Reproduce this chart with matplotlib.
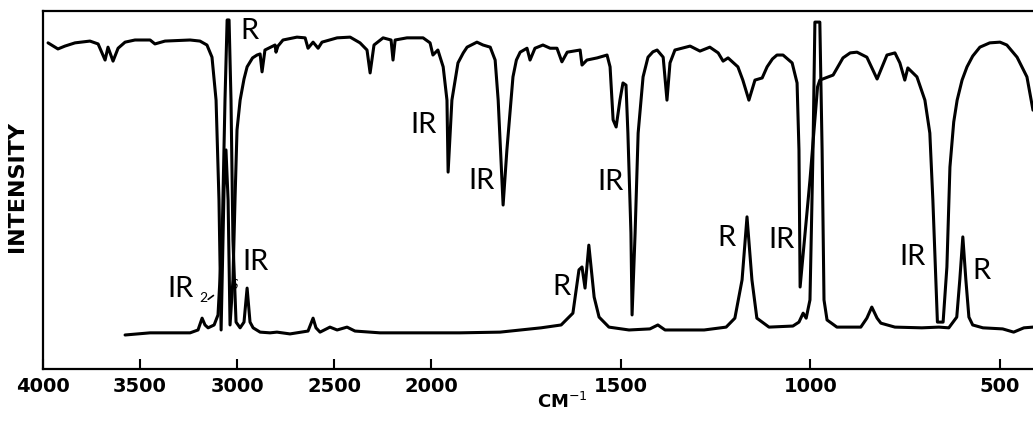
import numpy as np
import matplotlib
matplotlib.use("Agg")
import matplotlib.pyplot as plt

# ======== 数据 ========
# IR trace: wavenumber (cm-1) / relative intensity (0 = bottom, 100 = top)
ir_wn = [3974, 3923, 3887, 3835, 3758, 3716, 3680, 3665, 3639, 3613, 3577, 3526,
         3448, 3423, 3371, 3242, 3191, 3155, 3129, 3108, 3093, 3082, 3067, 3057,
         3046, 3036, 3021, 3010, 3000, 2984, 2964, 2948, 2920, 2897, 2881, 2871, 2856, 2804,
         2799, 2789, 2763, 2691, 2649, 2634, 2608, 2582, 2562, 2484, 2417, 2366,
         2330, 2314, 2294, 2247, 2206, 2196, 2185, 2124, 2041, 2005, 1995, 1982,
         1968, 1958, 1955, 1945, 1929, 1915, 1905, 1879, 1863, 1844, 1831, 1823, 1810,
         1800, 1784, 1775, 1765, 1747, 1739, 1726, 1705, 1686, 1668, 1655, 1641, 1607,
         1602, 1589, 1562, 1536, 1528, 1520, 1512, 1502, 1494, 1486, 1481, 1473,
         1470, 1462, 1454, 1441, 1428, 1415, 1404, 1388, 1378, 1370, 1357, 1317, 1291,
         1265, 1243, 1230, 1217, 1191, 1178, 1162, 1146, 1127, 1114, 1100, 1088, 1072,
         1048, 1035, 1030, 1027, 1001, 981, 975, 940, 925, 914, 895, 877, 851, 824, 798,
         777, 764, 751, 743, 719, 698, 685, 677, 667, 665, 650, 640, 632, 622, 613,
         600, 587, 572, 553, 527, 500, 482, 455, 429, 413]
ir_val = [91.1, 89.4, 90.2, 91.1, 91.6, 90.8, 86.3, 89.9, 86.0, 89.6, 91.3, 91.9,
          91.9, 90.8, 91.6, 91.9, 91.6, 90.5, 87.1, 75.1, 47.2, 10.9, 50.0, 61.2,
          47.2, 12.3, 24.9, 48.0, 66.8, 75.1, 81.0, 84.4, 86.9, 87.7, 88.0, 83.0, 89.1, 90.5,
          88.5, 90.2, 91.9, 92.7, 92.5, 89.6, 91.3, 89.6, 91.3, 92.5, 92.7, 91.1,
          89.1, 82.7, 90.5, 92.5, 91.9, 86.3, 91.9, 92.5, 92.5, 91.1, 87.7, 89.1,
          84.4, 75.1, 55.0, 75.1, 85.5, 88.3, 89.9, 91.3, 90.5, 89.9, 86.3, 75.1, 45.8,
          61.2, 81.6, 86.3, 88.5, 89.6, 86.3, 89.6, 90.5, 89.6, 89.6, 85.8, 88.5, 89.1,
          84.9, 86.3, 86.9, 87.7, 84.4, 69.6, 67.6, 75.1, 79.9, 79.3, 65.9, 38.0,
          15.1, 38.0, 65.9, 81.6, 87.1, 88.6, 89.1, 87.1, 75.1, 85.5, 89.1, 90.2, 88.8,
          89.9, 88.3, 86.0, 86.9, 84.4, 80.7, 75.1, 80.7, 81.3, 84.4, 86.6, 87.7, 87.7,
          85.5, 79.9, 61.2, 22.9, 52.8, 78.8, 80.7, 82.1, 84.9, 86.9, 88.3, 88.5, 87.1, 81.0, 87.7,
          88.3, 85.5, 80.7, 84.1, 81.6, 75.1, 65.9, 47.2, 19.3, 13.1, 13.1, 28.5, 56.4, 69.0, 75.1,
          80.7, 84.4, 87.4, 89.9, 91.1, 91.3, 90.5, 87.1, 81.6, 72.3]

# Raman trace
raman_wn = [3577, 3448, 3242, 3201, 3180, 3165, 3149, 3118, 3098, 3077, 3062, 3051,
            3041, 3031, 3021, 3005, 2984, 2964, 2948, 2933, 2917, 2881, 2830, 2794,
            2727, 2634, 2608, 2593, 2572, 2521, 2484, 2433, 2392, 2263, 2057, 1924,
            1818, 1710, 1657, 1626, 1610, 1602, 1594, 1584, 1570, 1557, 1531, 1478,
            1423, 1402, 1383, 1280, 1222, 1199, 1180, 1167, 1154, 1141, 1109, 1046,
            1030, 1019, 1011, 1001, 993, 988, 975, 969, 964, 956, 930, 867, 851, 838,
            824, 814, 777, 706, 661, 635, 614, 606, 598, 590, 582, 572, 545, 493,
            464, 437, 413]
raman_val = [9.5, 10.1, 10.1, 10.9, 14.2, 12.3, 11.5, 12.3, 15.1, 36.0, 75.1, 97.5,
             97.5, 75.1, 36.0, 13.1, 11.5, 13.1, 22.6, 13.1, 11.5, 10.3, 10.1, 10.3,
             9.8, 10.6, 14.2, 11.5, 10.3, 11.7, 10.9, 11.7, 10.6, 10.1, 10.1, 10.1,
             10.3, 11.5, 12.3, 15.6, 27.7, 28.5, 22.6, 34.6, 20.1, 14.5, 11.7, 10.9,
             11.2, 12.3, 10.9, 10.9, 11.7, 14.2, 24.9, 42.5, 24.9, 14.2, 11.7, 12.0,
             13.1, 15.6, 14.2, 19.3, 61.2, 96.9, 96.9, 61.2, 19.3, 13.7, 11.7, 11.7, 14.2, 17.3,
             14.2, 12.8, 11.7, 11.5, 11.7, 11.5, 14.5, 24.9, 36.9, 24.9, 14.5, 12.3, 11.5, 11.2,
             10.3, 11.5, 11.7]

tick_wn = [4000, 3500, 3000, 2500, 2000, 1500, 1000, 500]
tick_labels = ["4000", "3500", "3000", "2500", "2000", "1500", "1000", "500"]

# peak labels: text, wavenumber, intensity
label_text = ["R", "IR", "IR", "IR", "R", "R", "IR", "IR", "R", "IR", "IR"]
label_wn = [2938, 2041, 1868, 1528, 1657, 1220, 1077, 732, 548, 3289, 2907]
label_val = [94.4, 68.2, 52.5, 52.2, 22.9, 36.6, 36.0, 31.3, 27.4, 22.3, 29.9]


# ======== 2000 cm-1 处刻度变化 ========
def fwd(w):
    w = np.asarray(w, dtype=float)
    return np.where(w >= 2000, w, 2000 - 1.955 * (2000 - w))


def inv(u):
    u = np.asarray(u, dtype=float)
    return np.where(u >= 2000, u, 2000 - (2000 - u) / 1.955)


fig = plt.figure(figsize=(10.33, 4.34), dpi=100)
ax = fig.add_axes([43 / 1033, 1 - 369 / 434, 1 - 43 / 1033, (369 - 11) / 434])
ax.set_xscale("function", functions=(fwd, inv))

ax.plot(ir_wn, ir_val, color="black", lw=2.2, solid_joinstyle="round",
        solid_capstyle="round")
ax.plot(raman_wn, raman_val, color="black", lw=2.2, solid_joinstyle="round",
        solid_capstyle="round")

ax.set_xlim(4000, 413)
ax.set_ylim(0, 100)
ax.set_yticks([])
ax.set_xticks(tick_wn)
ax.set_xticklabels(tick_labels, fontsize=14, fontweight="bold", family="DejaVu Sans")
ax.tick_params(axis="x", direction="in", length=7, width=1.5, pad=6)
ax.spines["right"].set_visible(False)
for s in ["left", "top", "bottom"]:
    ax.spines[s].set_linewidth(1.6)

for t, w, v in zip(label_text, label_wn, label_val):
    ax.text(w, v, t, fontsize=21, family="Lato", ha="center", va="center")

# hand-written marks near the C-H region
ax.text(3175, 19.8, "2", fontsize=10, family="Lato", ha="center", va="center")
ax.annotate("", xy=(3110, 21.0), xytext=(3160, 19.0),
            arrowprops=dict(arrowstyle="-", lw=1.2, color="black"))
ax.text(3008, 23.5, "S", fontsize=9, family="Lato", style="italic",
        ha="center", va="center")

fig.text(17 / 1033, 1 - 187 / 434, "INTENSITY", rotation=90, fontsize=16,
         fontweight="bold", ha="center", va="center")
fig.text(562 / 1033, 1 - 402 / 434, "CM$^{-1}$", fontsize=13, fontweight="bold",
         ha="center", va="center")

fig.savefig("out.png", dpi=100)
